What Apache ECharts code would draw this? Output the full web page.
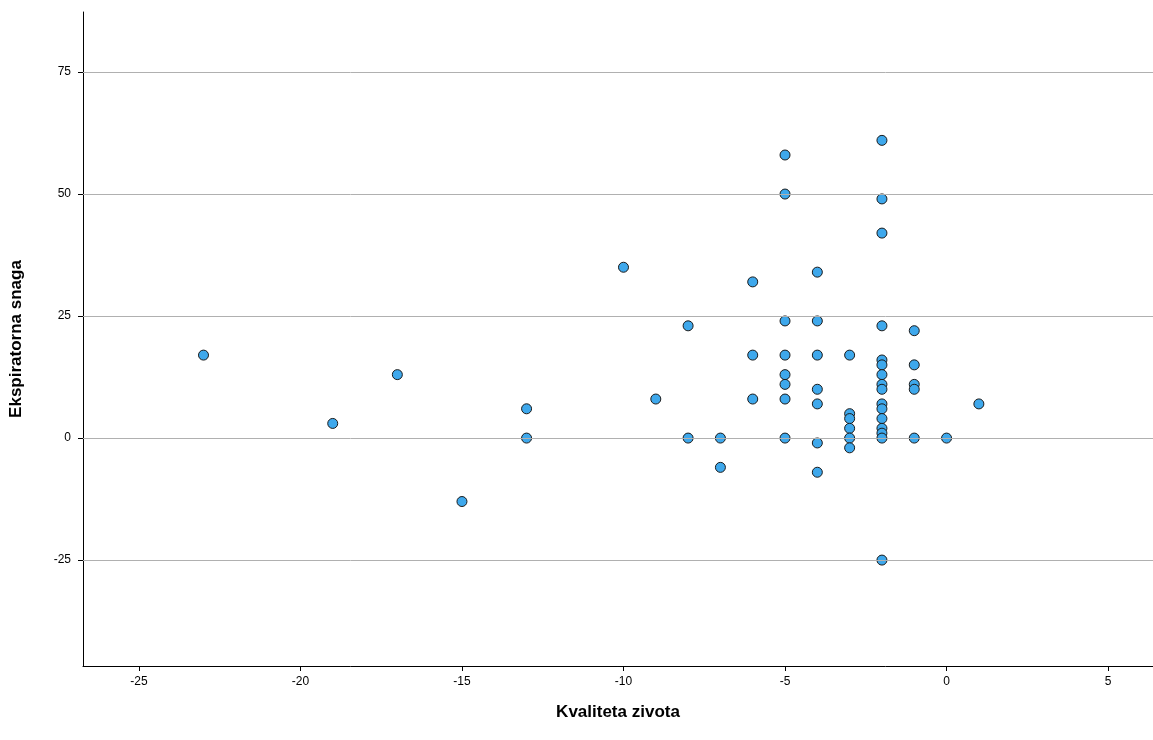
<!DOCTYPE html>
<html>
<head>
<meta charset="utf-8">
<script src="https://cdn.jsdelivr.net/npm/echarts@6/dist/echarts.min.js"></script>
<style>html,body{margin:0;padding:0;background:#fff}#chart{width:1153px;height:740px}</style>
</head>
<body>
<div id="chart"></div>
<script>
// Kvaliteta zivota (x) vs Ekspiratorna snaga (y)
var xVals = [-23,-19,-17,-15,-13,-13,-10,-9,-8,-8,-7,-7,-6,-6,-6,-5,-5,-5,-5,-5,-5,-5,-5,
  -4,-4,-4,-4,-4,-4,-4,-3,-3,-3,-3,-3,-3,-2,-2,-2,-2,-2,-2,-2,-2,-2,-2,-2,-2,-2,-2,-2,-2,
  -1,-1,-1,-1,-1,0,1];
var yVals = [17,3,13,-13,6,0,35,8,23,0,0,-6,32,17,8,58,50,24,17,13,11,8,0,
  34,24,17,10,7,-1,-7,17,5,4,2,0,-2,61,49,42,23,16,15,13,11,10,7,6,4,2,1,0,-25,
  22,15,11,10,0,0,7];
var xTicks = [-25,-20,-15,-10,-5,0,5];
var yTicks = [-25,0,25,50,75];

var points = xVals.map(function(x, i){ return [x, yVals[i]]; });

var myChart = echarts.init(document.getElementById('chart'));
var font = 'Arial, "Liberation Sans", sans-serif';
myChart.setOption({
    animation: false,
    grid: {left: 80, right: 0, top: 12, bottom: 74},
    xAxis: {
        type: 'value', min: -26.73, max: 6.39,
        name: 'Kvaliteta zivota', nameLocation: 'middle', nameGap: 38,
        nameTextStyle: {fontFamily: font, fontSize: 17, fontWeight: 'bold', color: '#000'},
        axisLine: {show: true, onZero: false, lineStyle: {color: '#000'}},
        axisTick: {show: true, customValues: xTicks, length: 5, lineStyle: {color: '#000'}},
        axisLabel: {customValues: xTicks, fontFamily: font, fontSize: 12, color: '#000', margin: 10},
        splitLine: {show: false}
    },
    yAxis: {
        type: 'value', min: -46.7, max: 87.3,
        name: 'Ekspiratorna snaga', nameLocation: 'middle', nameGap: 58,
        nameTextStyle: {fontFamily: font, fontSize: 17, fontWeight: 'bold', color: '#000'},
        axisLine: {show: true, onZero: false, lineStyle: {color: '#000'}},
        axisTick: {show: true, customValues: yTicks, length: 5, lineStyle: {color: '#000'}},
        axisLabel: {customValues: yTicks, fontFamily: font, fontSize: 12, color: '#000', margin: 12},
        splitLine: {show: false}
    },
    series: [{
        type: 'scatter',
        data: points,
        symbolSize: 10,
        itemStyle: {color: '#3ea8ec', borderColor: '#1a1a1a', borderWidth: 1, opacity: 1},
        markLine: {
            silent: true, symbol: 'none', label: {show: false},
            lineStyle: {color: '#b0b0b0', type: 'solid', width: 1},
            data: yTicks.map(function(v){ return {yAxis: v}; })
        },
        z: 3
    }]
});
</script>
</body>
</html>
